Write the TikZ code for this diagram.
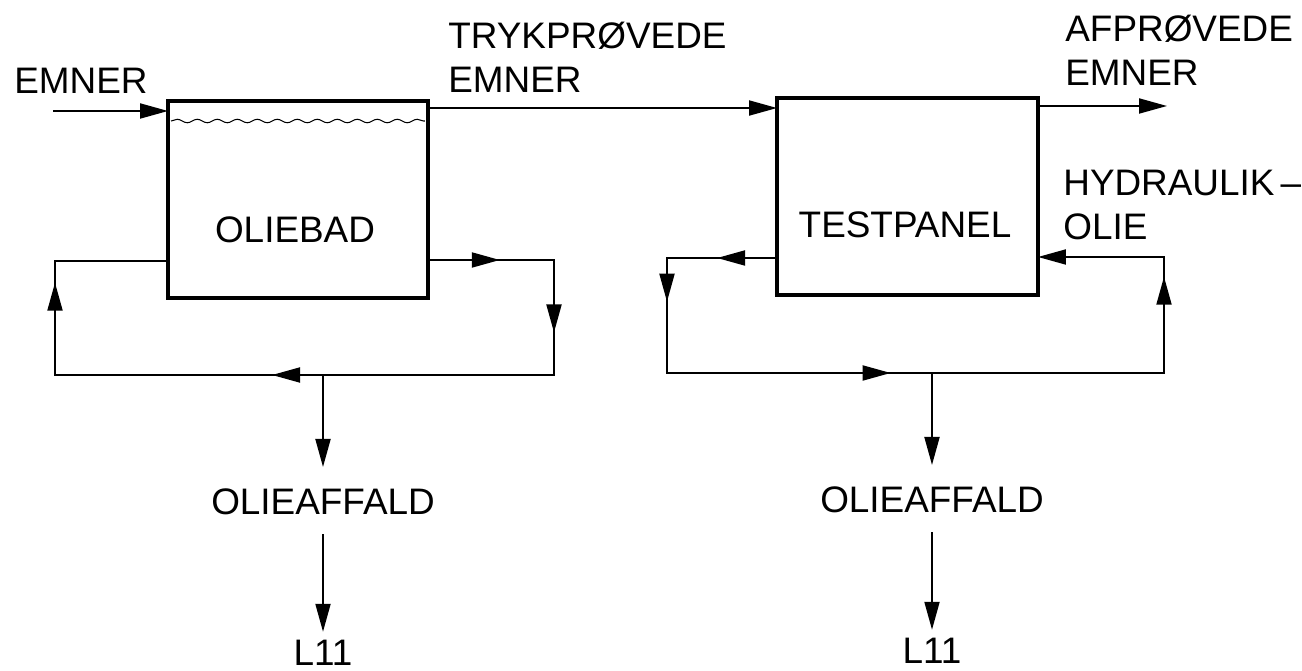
\documentclass[tikz,border=0pt]{standalone}
\usepackage{fontspec}
\setmainfont{Liberation Sans}
\usetikzlibrary{arrows.meta,positioning,calc,decorations.markings,decorations.pathmorphing}
\tikzset{
  tank/.style={draw,line width=2pt,minimum width=5.2cm,minimum height=3.94cm,
    inner sep=0pt,outer sep=0pt},
  lbl/.style={font=\fontsize{21}{25}\selectfont,inner sep=0pt,align=left},
  pipe/.style={line width=1.1pt,line cap=rect},
  flow/.style={pipe,-{Triangle[length=0.56cm,width=0.3cm]}},
  mid arrow/.style={postaction={decorate},decoration={markings,
    mark=at position #1 with {\arrow{Triangle[length=0.56cm,width=0.3cm]}}}}
}

\begin{document}
\begin{tikzpicture}[x=0.02cm,y=-0.02cm]
  \useasboundingbox (0,0) rectangle (1302,671);

  % the two units
  \node[tank] (bath) at (298,199.5) {};
  \node[tank,minimum width=5.22cm] (panel) at (907.5,196.5) {};
  \node[lbl] at ($(bath)+(-3,30)$) {OLIEBAD};
  \node[lbl] at ($(panel)+(-2.5,28.5)$) {TESTPANEL};
  \draw[decorate,decoration={snake,segment length=0.4cm,amplitude=0.035cm},line width=0.6pt]
    ($(bath.north west)+(3,20)$) -- ($(bath.north east)+(-3,20)$);

  % stream labels
  \node[lbl,anchor=north west] (emner) at (14,68) {EMNER};
  \node[lbl,anchor=north west] (tested) at (448,22) {TRYKPRØVEDE\\EMNER};
  \node[lbl,anchor=north west] (approved) at (1065,15) {AFPRØVEDE\\EMNER};
  \node[lbl,anchor=north west] (hydr) at (1063,170) {HYDRAULIK\,–\\OLIE};

  % main line
  \coordinate (emnerIn) at (54,111);
  \draw[flow] (emnerIn) -- (emnerIn -| bath.west);
  \coordinate (tA) at ($(bath.north east)+(0,7)$);
  \draw[flow] (tA) -- (tA -| panel.west);
  \coordinate (done) at (1167,106);
  \draw[flow] (done -| panel.east) -- (done);

  % oil bath circuit
  \coordinate (lb) at (55,261);
  \coordinate (lc) at (55,375);
  \coordinate (rc) at (554,375);
  \coordinate (rb) at (554,260);
  \draw[pipe,mid arrow=0.57] (rb -| bath.east) -- (rb);
  \draw[pipe,mid arrow=0.63] (rb) -- (rc);
  \draw[pipe,mid arrow=0.565] (rc) -- (lc);
  \draw[pipe,mid arrow=0.81] (lc) -- (lb);
  \draw[pipe] (lb) -- (lb -| bath.west);

  % test panel circuit
  \coordinate (lp1) at (667,258);
  \coordinate (lp2) at (667,373);
  \coordinate (rp2) at (1164,373);
  \coordinate (rp1) at (1164,257);
  \draw[pipe,mid arrow=0.545] (lp1 -| panel.west) -- (lp1);
  \draw[pipe,mid arrow=0.38] (lp1) -- (lp2);
  \draw[pipe,mid arrow=0.45] (lp2) -- (rp2);
  \draw[pipe,mid arrow=0.83] (rp2) -- (rp1);
  \draw[flow] (rp1) -- (rp1 -| panel.east);

  % waste oil
  \coordinate (drop1) at (323,375);
  \node[lbl,inner sep=0.2cm,below=2.06cm of drop1] (waste1) {OLIEAFFALD};
  \node[lbl,inner sep=0.04cm,below=2.26cm of waste1] (sink1) {L11};
  \draw[flow,shorten >=0.22cm] (drop1) -- (waste1);
  \draw[flow,shorten <=0.2cm,shorten >=0.12cm] (waste1) -- (sink1);

  \coordinate (drop2) at (932,373);
  \node[lbl,inner sep=0.2cm,below=2.06cm of drop2] (waste2) {OLIEAFFALD};
  \node[lbl,inner sep=0.04cm,below=2.26cm of waste2] (sink2) {L11};
  \draw[flow,shorten >=0.22cm] (drop2) -- (waste2);
  \draw[flow,shorten <=0.2cm,shorten >=0.12cm] (waste2) -- (sink2);
\end{tikzpicture}
\end{document}
